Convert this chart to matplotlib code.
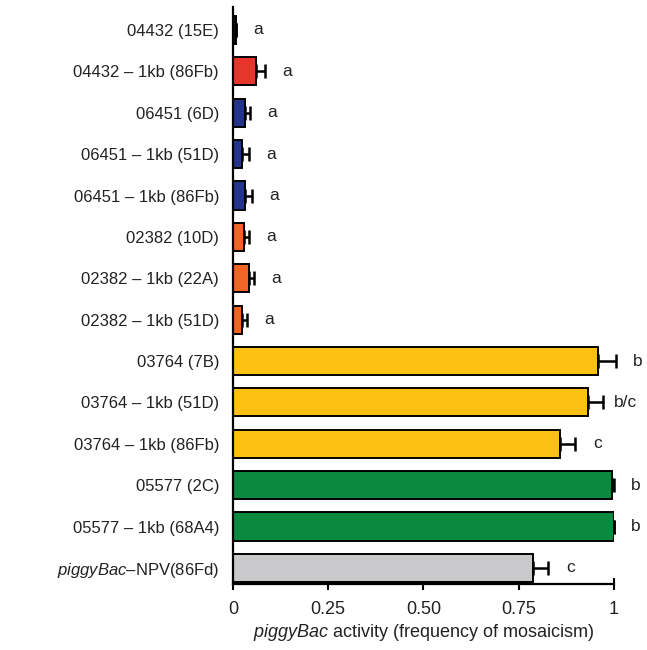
import matplotlib
matplotlib.use("Agg")
import matplotlib.pyplot as plt
import numpy as np

plt.rcParams["font.family"] = ["Liberation Sans", "DejaVu Sans"]
plt.rcParams["mathtext.fontset"] = "custom"
plt.rcParams["mathtext.rm"] = "Liberation Sans"
plt.rcParams["mathtext.it"] = "Liberation Sans:italic"

lines = [
    "04432 (15E)",
    "04432 \u2013 1kb (86Fb)",
    "06451 (6D)",
    "06451 \u2013 1kb (51D)",
    "06451 \u2013 1kb (86Fb)",
    "02382 (10D)",
    "02382 \u2013 1kb (22A)",
    "02382 \u2013 1kb (51D)",
    "03764 (7B)",
    "03764 \u2013 1kb (51D)",
    "03764 \u2013 1kb (86Fb)",
    "05577 (2C)",
    "05577 \u2013 1kb (68A4)",
    r"$\mathit{piggyBac}$" + "\u2013NPV(86Fd)",
]
activity = [0.008, 0.060, 0.031, 0.023, 0.031, 0.030, 0.043, 0.023,
            0.959, 0.931, 0.858, 0.994, 0.999, 0.787]
sem = [0.0, 0.024, 0.015, 0.020, 0.020, 0.013, 0.013, 0.013,
       0.046, 0.040, 0.040, 0.006, 0.0, 0.040]
groups = ["a", "a", "a", "a", "a", "a", "a", "a",
          "b", "b/c", "c", "b", "b", "c"]
colors = ["#111111", "#e8352b", "#24348a", "#24348a", "#24348a",
          "#f26424", "#f26424", "#f26424",
          "#fdc113", "#fdc113", "#fdc113",
          "#0b8a3f", "#0b8a3f", "#c9c9cb"]

fig = plt.figure(figsize=(6.47, 6.50), dpi=100)
ax = fig.add_axes([0.360, 0.1015, 0.589, 0.888])

y = np.arange(len(lines))
ax.barh(y, activity, height=0.68, color=colors, edgecolor="black",
        linewidth=1.4, zorder=2)
eb = ax.errorbar(activity, y, xerr=[np.zeros(len(sem)), sem], fmt="none",
                 ecolor="black", elinewidth=1.8, capsize=5, capthick=1.8,
                 zorder=3)
for art in eb.lines[1] + eb.lines[2]:
    art.set_clip_on(False)

# significance group letters to the right of each error bar
for yi, v, e, g in zip(y, activity, sem, groups):
    ax.text(v + e + 0.058, yi, g, ha="center", va="center", fontsize=12.5,
            color="#222222")

ax.set_ylim(13.39, -0.56)
ax.set_xlim(0, 1)
ax.set_yticks(y)
ax.set_yticklabels(lines, fontsize=12, color="#222222")
ax.tick_params(axis="y", length=0, pad=10)
ax.set_xticks([0, 0.25, 0.5, 0.75, 1])
ax.set_xticklabels(["0", "0.25", "0.50", "0.75", "1"], fontsize=13,
                   color="#222222")
ax.tick_params(axis="x", direction="inout", length=8, width=1.5, pad=8)
ax.spines["top"].set_visible(False)
ax.spines["right"].set_visible(False)
for s in ("left", "bottom"):
    ax.spines[s].set_linewidth(1.6)
ax.set_xlabel(r"$\mathit{piggyBac}$ activity (frequency of mosaicism)",
              fontsize=13, labelpad=3, color="#222222")

fig.savefig("out.png", dpi=100)
